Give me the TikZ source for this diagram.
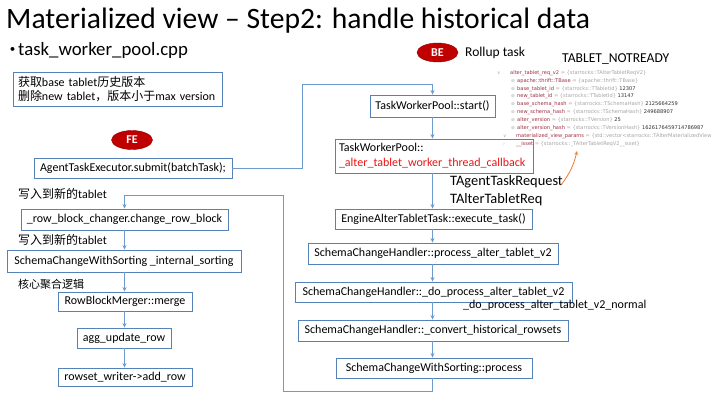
\documentclass[tikz,border=0pt]{standalone}
\usepackage{fontspec}
\setmainfont{Carlito}
\newfontfamily\cjk{Noto Sans CJK SC}
\newfontfamily\codefont{DejaVu Sans}
\usetikzlibrary{arrows.meta,shapes.geometric}

\definecolor{boxblue}{RGB}{84,130,185}
\definecolor{linkblue}{RGB}{110,155,205}
\definecolor{badgered}{RGB}{192,0,0}
\definecolor{callred}{RGB}{235,20,20}
\definecolor{fieldred}{RGB}{160,45,65}
\definecolor{typegray}{RGB}{165,165,165}
\definecolor{valgray}{RGB}{50,50,50}
\definecolor{notearrow}{RGB}{237,125,49}

\newcommand{\zh}[1]{{\cjk #1}}

\tikzset{
  box/.style={draw=boxblue, line width=0.9pt, inner sep=0pt,
    font=\fontsize{12}{14}\selectfont},
  badge/.style={ellipse, draw=badgered!75!black, fill=badgered, text=white,
    inner sep=0pt, minimum width=41pt, minimum height=19pt,
    font=\fontsize{12}{12}\selectfont\bfseries},
  flow/.style={draw=linkblue, line width=0.9pt,
    -{Stealth[length=4.5pt,width=4pt]}},
  note/.style={anchor=west, inner sep=0pt, font=\fontsize{12}{14}\selectfont},
  codeline/.style={anchor=west, inner sep=0pt, font=\codefont\fontsize{5.1}{6}\selectfont},
  codemark/.style={anchor=west, inner sep=0pt, text=typegray, font=\codefont\fontsize{4.5}{6}\selectfont}
}

\begin{document}
\begin{tikzpicture}[x=1pt,y=-1pt]
\useasboundingbox (0,0) rectangle (720,405);
\fill[white] (0,0) rectangle (720,405);

% heading
\node[anchor=base west, inner sep=0pt, font=\fontsize{29.6}{32}\selectfont] (title) at (6,28)
  {Materialized view -- Step2: handle historical data};
\node[inner sep=0pt, font=\fontsize{11}{12}\selectfont] (dot) at (12.5,49.5) {\textbullet};
\node[anchor=base west, inner sep=0pt, font=\fontsize{18.8}{20}\selectfont] (file) at (18,55)
  {task\_worker\_pool.cpp};

% FE side
\node[box, minimum width=209pt, minimum height=34pt, text width=199pt, align=left] (hist) at (117.5,89)
  {\zh{获取}base tablet\zh{历史版本}\\ \zh{删除}new tablet\zh{，版本小于}max version};
\node[badge] (fe) at (132,140) {FE};
\node[box, minimum width=198pt, minimum height=20pt] (agent) at (133,168)
  {AgentTaskExecutor.submit(batchTask);};

% BE side
\node[badge] (be) at (437.5,52.5) {BE};
\node[anchor=west, inner sep=0pt, font=\fontsize{13.5}{14}\selectfont] (rollup) at (465,53) {Rollup task};
\node[anchor=west, inner sep=0pt, font=\fontsize{13.6}{16}\selectfont] (notready) at (562,59) {TABLET\_NOTREADY};

\node[box, minimum width=125pt, minimum height=22pt] (start) at (432.5,106) {TaskWorkerPool::start()};
\node[box, minimum width=198pt, minimum height=34pt, text width=190pt, align=left,
  font=\fontsize{12}{15}\selectfont] (callback) at (434,156)
  {TaskWorkerPool::\\ \textcolor{callred}{\_alter\_tablet\_worker\_thread\_callback}};
\node[box, minimum width=197pt, minimum height=20pt] (engine) at (433.5,219) {EngineAlterTabletTask::execute\_task()};
\node[box, minimum width=250pt, minimum height=21pt] (handler) at (433,253.5) {SchemaChangeHandler::process\_alter\_tablet\_v2};
\node[box, minimum width=277pt, minimum height=20pt] (doproc) at (433.5,292) {SchemaChangeHandler::\_do\_process\_alter\_tablet\_v2};
\node[box, minimum width=270pt, minimum height=21pt] (convert) at (433,330.5) {SchemaChangeHandler::\_convert\_historical\_rowsets};
\node[box, minimum width=196pt, minimum height=20pt] (process) at (434,368) {SchemaChangeWithSorting::process};

\node[anchor=west, inner sep=0pt, font=\fontsize{14.4}{16}\selectfont] (treq) at (450,182) {TAgentTaskRequest};
\node[anchor=west, inner sep=0pt, font=\fontsize{14.4}{16}\selectfont] (talter) at (450,200) {TAlterTabletReq};
\node[note] (normal) at (463,305) {\_do\_process\_alter\_tablet\_v2\_normal};

% row rewriting chain
\node[box, minimum width=207pt, minimum height=21pt] (changer) at (124.5,219.5) {\_row\_block\_changer.change\_row\_block};
\node[box, minimum width=234pt, minimum height=22pt] (internal) at (124,261) {SchemaChangeWithSorting \_internal\_sorting};
\node[box, minimum width=134pt, minimum height=19pt] (merge) at (125,301.5) {RowBlockMerger::merge};
\node[box, minimum width=94pt, minimum height=20pt] (agg) at (124,338) {agg\_update\_row};
\node[box, minimum width=134pt, minimum height=18pt] (addrow) at (125,377) {rowset\_writer->add\_row};

\node[note] (write1) at (18,194) {\zh{写入到新的}tablet};
\node[note] (write2) at (18,240) {\zh{写入到新的}tablet};
\node[note, font=\fontsize{11}{13}\selectfont] (core) at (18,284) {\zh{核心聚合逻辑}};

% debugger view of the request
\node[codemark] (m1) at (497,73) {∨};
\node[codeline] (c1) at (510,73) {\textcolor{fieldred}{alter\_tablet\_req\_v2} \textcolor{typegray}{= \{starrocks::TAlterTabletReqV2\}}};
\node[codemark] (m2) at (511,81) {⊜};
\node[codeline] (c2) at (517,81) {\textcolor{fieldred}{apache::thrift::TBase} \textcolor{typegray}{= \{apache::thrift::TBase\}}};
\node[codemark] (m3) at (511,89) {⊜};
\node[codeline] (c3) at (517,89) {\textcolor{fieldred}{base\_tablet\_id} \textcolor{typegray}{= \{starrocks::TTabletId\}} \textcolor{valgray}{12307}};
\node[codemark] (m4) at (511,96.5) {⊜};
\node[codeline] (c4) at (517,96.5) {\textcolor{fieldred}{new\_tablet\_id} \textcolor{typegray}{= \{starrocks::TTabletId\}} \textcolor{valgray}{13147}};
\node[codemark] (m5) at (511,104.5) {⊜};
\node[codeline] (c5) at (517,104.5) {\textcolor{fieldred}{base\_schema\_hash} \textcolor{typegray}{= \{starrocks::TSchemaHash\}} \textcolor{valgray}{2125664259}};
\node[codemark] (m6) at (511,112) {⊜};
\node[codeline] (c6) at (517,112) {\textcolor{fieldred}{new\_schema\_hash} \textcolor{typegray}{= \{starrocks::TSchemaHash\}} \textcolor{valgray}{249688907}};
\node[codemark] (m7) at (511,120) {⊜};
\node[codeline] (c7) at (517,120) {\textcolor{fieldred}{alter\_version} \textcolor{typegray}{= \{starrocks::TVersion\}} \textcolor{valgray}{25}};
\node[codemark] (m8) at (511,128) {⊜};
\node[codeline] (c8) at (517,128) {\textcolor{fieldred}{alter\_version\_hash} \textcolor{typegray}{= \{starrocks::TVersionHash\}} \textcolor{valgray}{1626176459714786987}};
\node[codemark] (m9) at (503,136) {∨};
\node[codeline] (c9) at (516,136) {\textcolor{fieldred}{materialized\_view\_params} \textcolor{typegray}{= \{std::vector<starrocks::TAlterMaterializedView}};
\node[codemark] (m10) at (503,144) {›};
\node[codeline] (c10) at (516,144) {\textcolor{fieldred}{\_\_isset} \textcolor{typegray}{= \{starrocks::\_TAlterTabletReqV2\_\_isset\}}};

% pointer from the request label to the field dump
\coordinate (ptail) at (561,185);
\coordinate (phead) at (577,151);
\draw[notearrow, line width=0.8pt, -{Stealth[length=4pt,width=3.5pt]}] (ptail) to[bend right=12] (phead);

% connectors
\coordinate (j1) at (302,84);
\draw[flow] (agent.east) -| (j1) -| (start.north);
\draw[flow] (start.south) -- (start.south |- callback.north);
\draw[flow] (callback.south -| start.south) -- (start.south |- engine.north);
\draw[flow] (engine.south -| start.south) -- (start.south |- handler.north);
\draw[flow] (handler.south -| start.south) -- (start.south |- doproc.north);
\draw[flow] (doproc.south -| start.south) -- (start.south |- convert.north);
\draw[flow] (convert.south -| start.south) -- (start.south |- process.north);

\coordinate (l1) at (283,391);
\coordinate (l2) at (283,195);
\draw[flow] (process.south -| start.south) |- (l1) -- (l2) -| (changer.north);

\draw[flow] (changer.south) -- (changer.south |- internal.north);
\draw[flow] (internal.south -| changer.south) -- (changer.south |- merge.north);
\draw[flow] (merge.south -| changer.south) -- (changer.south |- agg.north);
\draw[flow] (agg.south -| changer.south) -- (changer.south |- addrow.north);
\end{tikzpicture}
\end{document}
